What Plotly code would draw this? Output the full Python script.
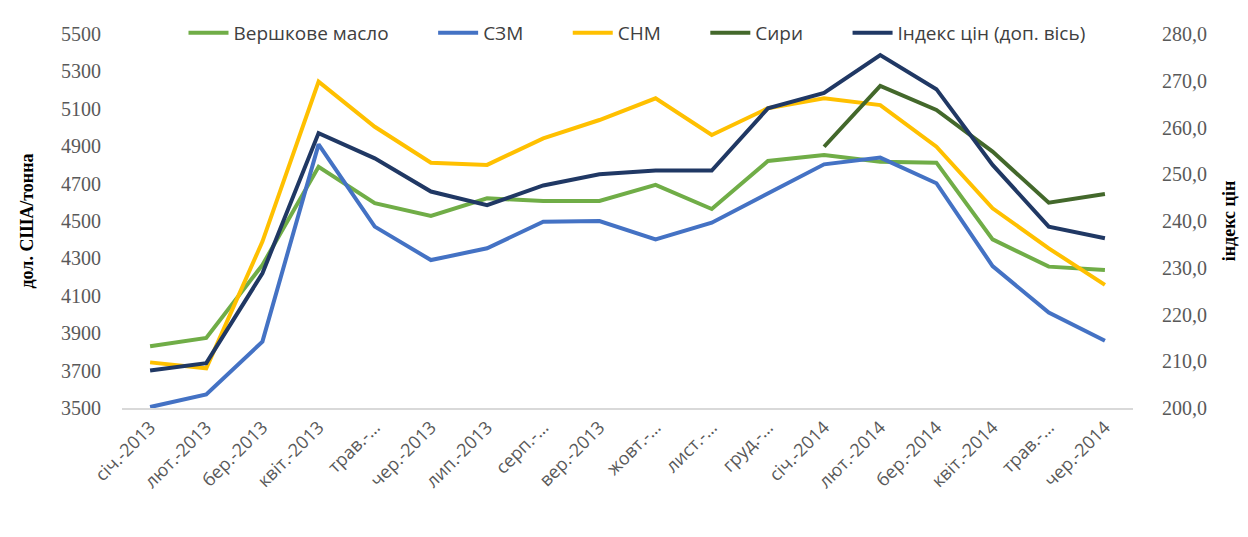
import plotly.graph_objects as go

months = ["січ.-2013", "лют.-2013", "бер.-2013", "квіт.-2013", "трав.-…", "чер.-2013",
          "лип.-2013", "серп.-…", "вер.-2013", "жовт.-…", "лист.-…", "груд.-…",
          "січ.-2014", "лют.-2014", "бер.-2014", "квіт.-2014", "трав.-…", "чер.-2014"]

butter = [3830, 3875, 4265, 4790, 4595, 4527, 4621, 4607, 4607, 4693, 4564, 4821,
          4853, 4817, 4812, 4402, 4256, 4238]
smp = [3505, 3572, 3855, 4910, 4470, 4291, 4354, 4496, 4500, 4402, 4491, 4648,
       4803, 4839, 4702, 4259, 4010, 3860]
wmp = [3744, 3712, 4390, 5245, 5004, 4812, 4800, 4942, 5040, 5156, 4960, 5103,
       5156, 5120, 4897, 4568, 4354, 4158]
cheese = [None] * 12 + [4897, 5222, 5094, 4871, 4598, 4644]
index = [208.0, 209.6, 228.8, 258.8, 253.4, 246.3, 243.4, 247.6, 250.0, 250.8, 250.8,
         264.1, 267.4, 275.5, 268.2, 252.0, 238.8, 236.3]

xpos = list(range(len(months)))
left_ticks = list(range(3500, 5501, 200))
right_ticks = list(range(200, 281, 10))
right_labels = [f"{v},0" for v in right_ticks]

W, H = 1232, 521
OFF = 8  # page body margin
fig = go.Figure()
pad = "\u00a0" * 8
series = [
    ("Вершкове масло" + pad, butter, "#70AD47", "y"),
    ("СЗМ" + pad, smp, "#4472C4", "y"),
    ("СНМ" + pad, wmp, "#FFC000", "y"),
    ("Сири" + pad, cheese, "#43682B", "y"),
    ("Індекс цін (доп. вісь)", index, "#203864", "y2"),
]
for name, vals, col, ax in series:
    fig.add_trace(go.Scatter(x=xpos, y=vals, name=name, mode="lines",
                             line=dict(color=col, width=4), yaxis=ax,
                             connectgaps=False))

fig.update_layout(
    width=W, height=H,
    margin=dict(l=122 - OFF, r=W + OFF - 1133, t=34 - OFF, b=H + OFF - 408, autoexpand=False),
    paper_bgcolor="white", plot_bgcolor="white",
    legend=dict(orientation="h", x=(637 - 122) / (1133 - 122), xanchor="center",
                yref="container", y=1 - (33 - OFF) / H, yanchor="middle",
                font=dict(family="Open Sans", size=19, color="#404040"),
                bgcolor="rgba(255,255,255,0)", itemwidth=40),
    xaxis=dict(range=[-0.5, 17.5], tickvals=xpos, ticktext=months, tickangle=-45,
               tickfont=dict(family="Open Sans", size=18, color="#595959"),
               showgrid=False, showline=True, linecolor="#D9D9D9", linewidth=1.5,
               ticks="", zeroline=False, automargin=False),
    yaxis=dict(range=[3500, 5500], tickvals=left_ticks, showgrid=False,
               zeroline=False, showline=False, ticks="", automargin=False,
               ticklabelstandoff=20,
               tickfont=dict(family="Liberation Serif", size=20, color="#595959"),
               title=dict(text="<b>дол. США/тонна</b>", standoff=22,
                          font=dict(family="Liberation Serif", size=18, color="#000000"))),
    yaxis2=dict(range=[200, 280], tickvals=right_ticks, ticktext=right_labels,
                overlaying="y", side="right", showgrid=False, zeroline=False,
                showline=False, ticks="", automargin=False, ticklabelstandoff=28,
                tickfont=dict(family="Liberation Serif", size=20, color="#595959"),
                title=dict(text="<b>індекс цін</b>", standoff=16,
                           font=dict(family="Liberation Serif", size=18, color="#000000"))),
)

fig.write_html("out.html")
